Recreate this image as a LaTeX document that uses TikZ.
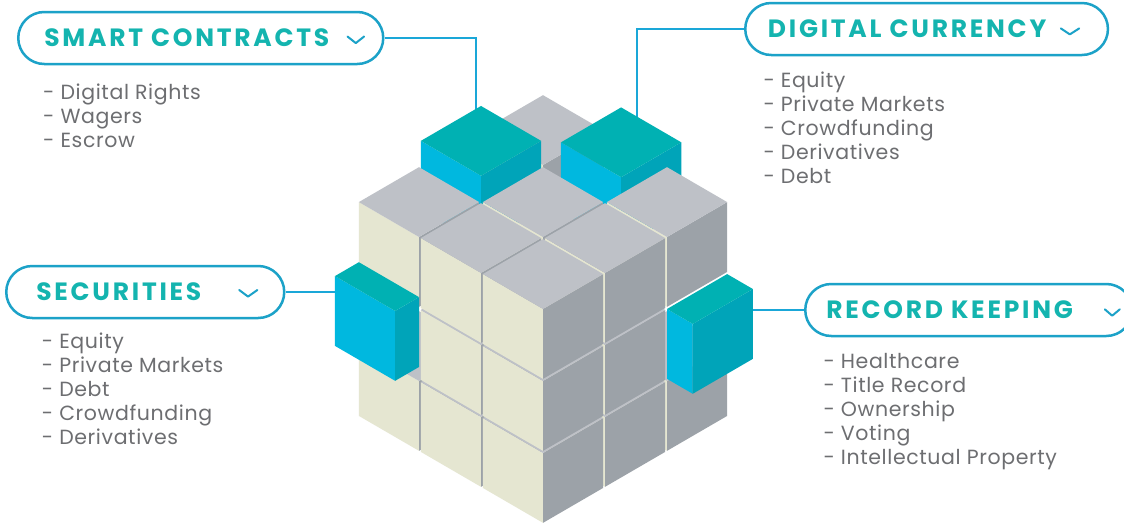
\documentclass[tikz,border=0pt]{standalone}
\usepackage{fontspec}
\setmainfont{Poppins}
\newfontfamily\headfam{Poppins}[LetterSpace=11]
\newfontfamily\itemfam{Poppins}[LetterSpace=3]
\definecolor{gytop}{HTML}{BEC1C7}
\definecolor{gyleft}{HTML}{E5E6D1}
\definecolor{gyright}{HTML}{9CA2A8}
\definecolor{tltop}{HTML}{00B1B3}
\definecolor{tlleft}{HTML}{00B8DF}
\definecolor{tlright}{HTML}{00A4B9}
\definecolor{boxline}{HTML}{1CA2C8}
\definecolor{headtxt}{HTML}{14B4AF}
\definecolor{itemtxt}{HTML}{6D6E71}
\definecolor{linkc}{HTML}{1AA7D8}
\newcommand{\headfnt}{\headfam\bfseries\fontsize{25}{28}\selectfont}
\newcommand{\itemfnt}{\itemfam\fontsize{20.5}{24}\selectfont}
%% one block: corner (a,b,c), sizes along a, b, c, colour prefix
\newcommand{\blockat}[7]{%
  \fill[#7left] (#1,#2,#3) -- ++(0,#5,0) -- ++(0,0,#6) -- ++(0,-#5,0) -- cycle;
  \fill[#7right] (#1,#2,#3) -- ++(#4,0,0) -- ++(0,0,#6) -- ++(-#4,0,0) -- cycle;
  \fill[#7top] (#1,#2,#3) ++(0,0,#6) -- ++(#4,0,0) -- ++(0,#5,0) -- ++(-#4,0,0) -- cycle;}
\newcommand{\cubelet}[4]{\blockat{#1}{#2}{#3}{.97}{.97}{.97}{#4}}
\tikzset{
  head/.style={draw=boxline, line width=2.5pt, rounded corners=26pt, text=headtxt,
    font=\headfnt, anchor=west, minimum height=52pt, text height=17pt, text depth=0pt},
  item/.style={text=itemtxt, font=\itemfnt, anchor=base west, inner sep=0pt},
  link/.style={draw=linkc, line width=2pt},
  chev/.style={draw=boxline, line width=2pt, line cap=round, line join=round}
}
\begin{document}
\begin{tikzpicture}[x=1pt,y=-1pt]
    \useasboundingbox (0,0) rectangle (1124,525);
    \fill[white] (0,0) rectangle (1124,525);
    %% Headers
    \node[head, inner xsep=26pt] (smart) at (17,38) {\makebox[313pt][l]{SMART CONTRACTS}};
    \node[head, inner xsep=22.7pt] (digital) at (744,29) {\makebox[317.3pt][l]{DIGITAL CURRENCY}};
    \node[head, inner xsep=30pt] (securities) at (5,292) {\makebox[218pt][l]{SECURITIES}};
    \node[head, inner xsep=21pt] (records) at (804,310) {\makebox[285pt][l]{RECORD KEEPING}};
    \draw[chev] (smart.east) ++(-37,-1.5) -- ++(8.3,6.6) -- ++(8.3,-6.6);
    \draw[chev] (digital.east) ++(-48.4,-0.6) -- ++(9,6) -- ++(9.4,-6);
    \draw[chev] (securities.east) ++(-46.3,-2) -- ++(8.8,6.6) -- ++(9.4,-6.6);
    \draw[chev] (records.east) ++(-28.7,-0.7) -- ++(7.4,6.4) -- ++(7.6,-6.4);
    %% Lists
    \foreach \t [count=\i] in {Digital Rights, Wagers, Escrow}
        \node[item] (sc\i) at (43,{99.5+24*(\i-1)}) {- \t};
    \foreach \t [count=\i] in {Equity, Private Markets, Crowdfunding, Derivatives, Debt}
        \node[item] (dc\i) at (763.3,{87.3+24*(\i-1)}) {- \t};
    \foreach \t [count=\i] in {Equity, Private Markets, Debt, Crowdfunding, Derivatives}
        \node[item] (se\i) at (41.7,{348.3+24*(\i-1)}) {- \t};
    \foreach \t [count=\i] in {Healthcare, Title Record, Ownership, Voting, Intellectual Property}
        \node[item] (rk\i) at (823.3,{368.3+24*(\i-1)}) {- \t};
    %% Connectors
    \coordinate (scpin) at (476,112);
    \coordinate (dcpin) at (637.3,119);
    \coordinate (sepin) at (340,292);
    \coordinate (rkpin) at (748,310);
    \draw[link] (smart.east) -| (scpin);
    \draw[link] (digital.west) -| (dcpin);
    \draw[link] (securities.east) -- (sepin);
    \draw[link] (records.west) -- (rkpin);
    %% Cube
    \begin{scope}[shift={(543,525)}, x={(62pt,36pt)}, y={(-62pt,36pt)}, z={(0pt,72pt)}]
        \begin{scope}[shift={(0.015,0.015,0.015)}]
            \foreach \i/\j/\k in {2/2/0, 1/2/0, 2/1/0, 2/2/1, 0/2/0, 1/1/0, 2/0/0, 1/2/1, 2/1/1, 2/2/2}
                \cubelet{\i}{\j}{\k}{gy};
            \cubelet{2.26}{1}{2.2}{tl}
            \foreach \i/\j/\k in {0/1/0, 1/0/0, 1/1/1}
                \cubelet{\i}{\j}{\k}{gy};
            \cubelet{1}{2}{2.35}{tl}
            \foreach \i/\j/\k in {0/0/0, 0/1/1, 1/0/1, 0/2/2, 1/1/2, 2/0/2, 0/0/1, 0/1/2, 1/0/2, 0/0/2}
                \cubelet{\i}{\j}{\k}{gy};
        \end{scope}
        %% pulled-out side blocks
        \blockat{-0.37}{2.015}{1.18}{0.385}{0.97}{0.97}{tl}
        \blockat{2.015}{-0.4}{1.015}{0.97}{0.415}{0.97}{tl}
    \end{scope}
\end{tikzpicture}
\end{document}
